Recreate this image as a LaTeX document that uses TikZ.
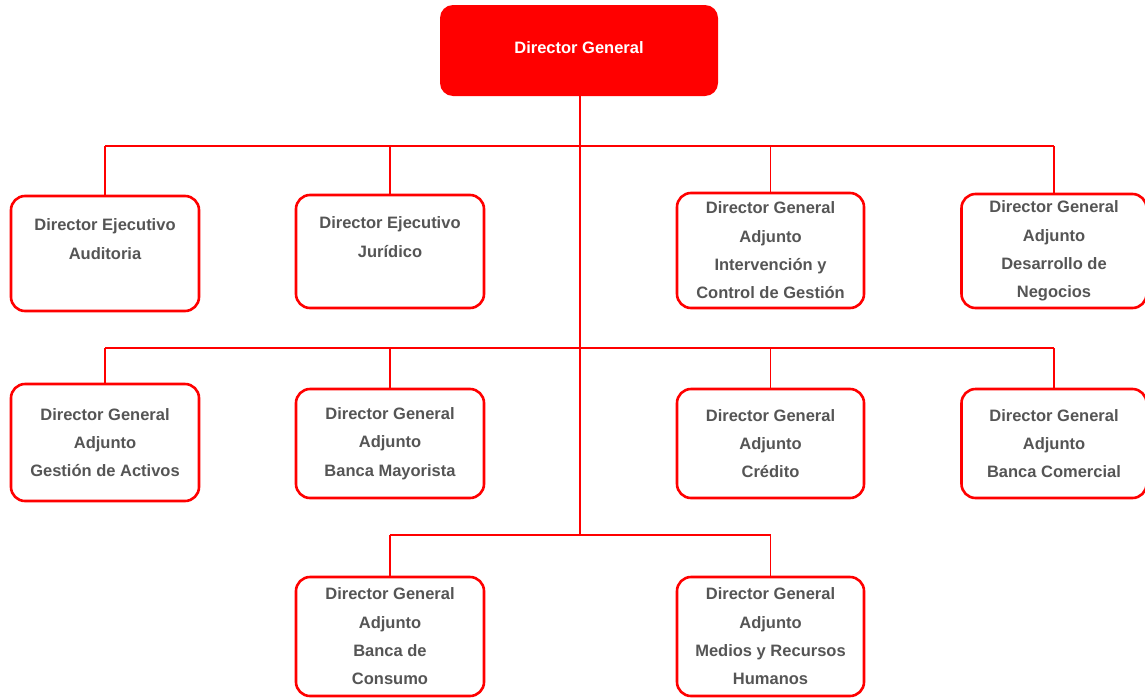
\documentclass[tikz,border=0pt]{standalone}
\usepackage{fontspec}
\setmainfont{Liberation Sans}
\definecolor{orgred}{RGB}{255,0,0}
\definecolor{orgtext}{RGB}{85,85,85}
\tikzset{
  unitbox/.style={draw=orgred, line width=2.6pt, rounded corners=14pt, fill=white,
    text=orgtext, align=center, inner sep=0pt,
    font=\fontsize{16.5}{28.3}\selectfont\bfseries},
  headbox/.style={fill=orgred, rounded corners=13pt, text=white, inner sep=0pt,
    font=\fontsize{16.5}{20}\selectfont\bfseries},
  bus/.style={draw=orgred, line width=1.3pt},
  trunk/.style={draw=orgred, line width=2.6pt}
}

\begin{document}
\begin{tikzpicture}[x=1pt, y=-1pt]
\useasboundingbox (0,0) rectangle (1145,699);
\node[headbox, minimum width=278pt, minimum height=91pt] (dg) at (579,50.5) {\raisebox{6pt}{Director General}};
\coordinate (busA) at (580,146);
\coordinate (busB) at (580,348);
\coordinate (busC) at (580,535);
% first row
\node[unitbox, minimum width=188pt, minimum height=115pt] (aud) at (105,253.5) {Director Ejecutivo\\Auditoria\\[-8pt]\strut};
\node[unitbox, minimum width=188pt, minimum height=113pt] (jur) at (390,251.5) {Director Ejecutivo\\Jurídico\\[-8pt]\strut};
\node[unitbox, minimum width=187pt, minimum height=115pt] (icg) at (770.5,250.5) {Director General\\Adjunto\\Intervención y\\Control de Gestión};
\node[unitbox, minimum width=185pt, minimum height=114pt] (neg) at (1054,251) {Director General\\Adjunto\\Desarrollo de\\Negocios};
% second row
\node[unitbox, minimum width=188pt, minimum height=117pt] (act) at (105,442.5) {Director General\\Adjunto\\Gestión de Activos};
\node[unitbox, minimum width=188pt, minimum height=109pt] (may) at (390,443.5) {Director General\\Adjunto\\Banca Mayorista};
\node[unitbox, minimum width=187pt, minimum height=109pt] (cre) at (770.5,443.5) {Director General\\Adjunto\\Crédito};
\node[unitbox, minimum width=185pt, minimum height=109pt] (com) at (1054,443.5) {Director General\\Adjunto\\Banca Comercial};
% third row
\node[unitbox, minimum width=188pt, minimum height=119pt] (con) at (390,636.5) {Director General\\Adjunto\\Banca de\\Consumo};
\node[unitbox, minimum width=187pt, minimum height=119pt] (rrh) at (770.5,636.5) {Director General\\Adjunto\\Medios y Recursos\\Humanos};
% connectors
\draw[bus] (aud.north |- busA) -- (neg.north |- busA);
\draw[bus] (act.north |- busB) -- (com.north |- busB);
\draw[bus] (con.north |- busC) -- (rrh.north |- busC);
\foreach \n/\b in {aud/busA, jur/busA, icg/busA, neg/busA, act/busB, may/busB, cre/busB, com/busB, con/busC, rrh/busC}
  \draw[bus] (\n.north) -- (\n.north |- \b);
\draw[trunk] (dg.south -| busA) -- (busC);
\end{tikzpicture}
\end{document}
